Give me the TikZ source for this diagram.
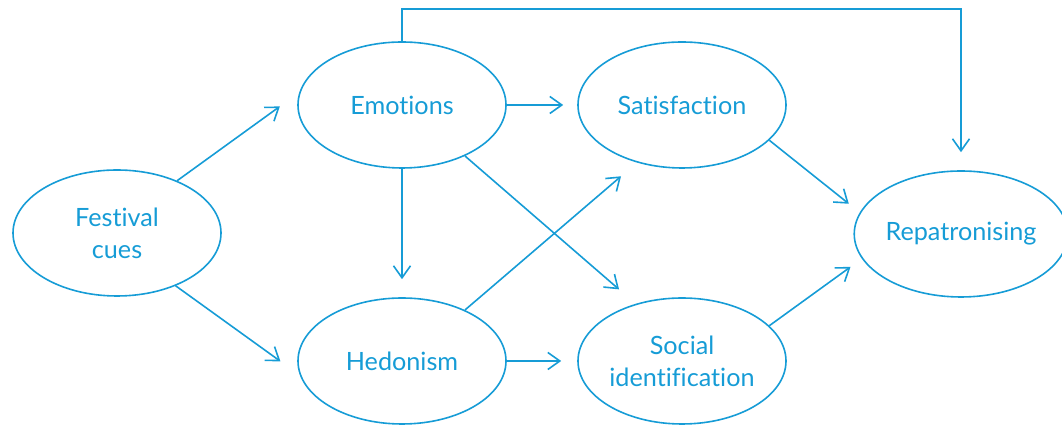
\documentclass[tikz,border=0pt]{standalone}
\usepackage{fontspec}
\setmainfont{Lato}[Ligatures=NoCommon]
\usetikzlibrary{arrows.meta,shapes.geometric}
\definecolor{cueblue}{RGB}{22,156,214}

\tikzset{
  construct/.style={ellipse, draw=cueblue, text=cueblue, line width=0.8pt,
    minimum width=104pt, minimum height=63pt, inner sep=0pt, align=center,
    font=\fontsize{12.6}{16}\selectfont},
  link/.style={draw=cueblue, line width=0.8pt,
    -{Straight Barb[length=6pt,width=8.5pt]}}
}

\begin{document}
\begin{tikzpicture}[x=0.5pt, y=-0.5pt]
    \useasboundingbox (0,0) rectangle (1062,426);
    % Nodes
    \node[construct] (fest) at (117,233) {Festival\\cues};
    \node[construct] (emo) at (402,105) {Emotions};
    \node[construct] (hed) at (402,361) {Hedonism};
    \node[construct] (sat) at (682,105) {Satisfaction};
    \node[construct] (soc) at (682,361) {Social\\identification};
    \node[construct, minimum width=102pt] (rep) at (961,234) {Repatronising};
    \coordinate (top) at (0,9);
    % Arrows
    \draw[link, shorten >=12pt] (fest.41) -- (emo.173);
    \draw[link, shorten >=12pt] (fest.-42) -- (hed.188);
    \draw[link, shorten >=7pt] (emo.east) -- (sat.west);
    \draw[link, shorten >=9pt] (emo.south) -- (hed.north);
    \draw[link, shorten >=11pt] (emo.-39) -- (soc.129);
    \draw[link, shorten >=8pt] (hed.east) -- (soc.west);
    \draw[link, shorten >=10.5pt] (hed.39) -- (sat.232);
    \draw[link, shorten >=7pt] (sat.-22) -- (rep.168);
    \draw[link, shorten >=7pt] (soc.22) -- (rep.194);
    \draw[link, shorten >=9pt] (emo.north) -- (emo.north |- top) -| (rep.north);
\end{tikzpicture}
\end{document}
